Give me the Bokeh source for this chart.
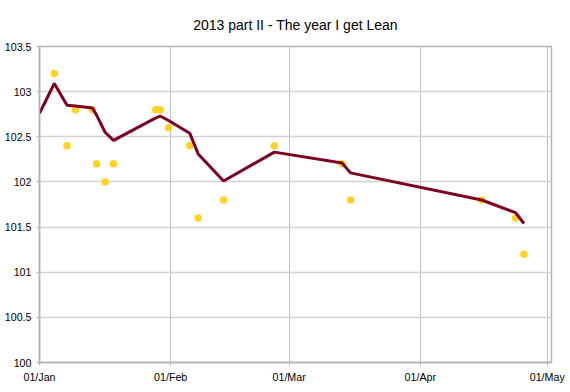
import pandas as pd
from bokeh.plotting import figure
from bokeh.models import Range1d, FixedTicker, DatetimeTickFormatter, NumeralTickFormatter, ColumnDataSource
from bokeh.embed import file_html
from bokeh.resources import INLINE

title_text = "2013 part II - The year I get Lean"

point_dates = ["2013-01-04 12:00", "2013-01-07 12:00", "2013-01-09 12:00", "2013-01-13 12:00",
               "2013-01-14 12:00", "2013-01-16 12:00", "2013-01-18 12:00", "2013-01-28 12:00",
               "2013-01-29 12:00", "2013-01-31 12:00", "2013-02-05 12:00", "2013-02-07 12:00",
               "2013-02-13 12:00", "2013-02-25 12:00", "2013-03-13 12:00", "2013-03-15 12:00",
               "2013-04-15 12:00", "2013-04-23 12:00", "2013-04-25 12:00"]
point_values = [103.2, 102.4, 102.8, 102.8, 102.2, 102.0, 102.2, 102.8, 102.8, 102.6,
                102.4, 101.6, 101.8, 102.4, 102.2, 101.8, 101.8, 101.6, 101.2]

trend_dates = ["2013-01-01 00:00"] + point_dates
trend_values = [102.76, 103.09, 102.85, 102.84, 102.82, 102.74, 102.55, 102.46, 102.71, 102.73,
                102.68, 102.54, 102.31, 102.01, 102.33, 102.21, 102.10, 101.80, 101.66, 101.54]

month_ticks = ["2013-01-01", "2013-02-01", "2013-03-01", "2013-04-01", "2013-05-01"]
y_ticks = [100, 100.5, 101, 101.5, 102, 102.5, 103, 103.5]

pts = ColumnDataSource(dict(x=pd.to_datetime(point_dates), y=point_values))
trend = ColumnDataSource(dict(x=pd.to_datetime(trend_dates), y=trend_values))

p = figure(width=570, height=392, output_backend="svg", toolbar_location=None,
           x_axis_type="datetime",
           x_range=Range1d(pd.Timestamp("2013-01-01"), pd.Timestamp("2013-05-02")),
           y_range=Range1d(100, 103.5),
           min_border_left=39, min_border_right=19, min_border_top=46, min_border_bottom=30)

p.title.text = title_text
p.title.align = "center"
p.title.text_font = "Liberation Sans"
p.title.text_font_size = "14px"
p.title.text_font_style = "normal"
p.title.text_color = "#000000"
p.title.standoff = 27

p.scatter("x", "y", source=pts, size=7.5, fill_color="#ffd320", line_color=None)
p.line("x", "y", source=trend, line_color="#7e0021", line_width=3)

xt = [pd.Timestamp(d).value // 10**6 for d in month_ticks]
p.xaxis.ticker = FixedTicker(ticks=xt)
fmt = "%d/%b"
p.xaxis.formatter = DatetimeTickFormatter(milliseconds=fmt, seconds=fmt, minsec=fmt, minutes=fmt,
                                          hourmin=fmt, hours=fmt, days=fmt, months=fmt, years=fmt)
p.yaxis.ticker = FixedTicker(ticks=y_ticks)
p.yaxis.formatter = NumeralTickFormatter(format="0.[0]")

for ax in (p.xaxis, p.yaxis):
    ax.axis_line_color = "#b3b3b3"
    ax.axis_line_width = 1.5
    ax.major_tick_line_color = "#b3b3b3"
    ax.major_tick_in = 0
    ax.major_tick_out = 3
    ax.minor_tick_line_color = None
    ax.major_label_text_font = "Liberation Sans"
    ax.major_label_text_font_size = "10.7px"
    ax.major_label_text_color = "#000000"
p.xaxis.major_label_standoff = 5
p.yaxis.major_label_standoff = 5

p.xgrid.grid_line_color = "#c0c0c0"
p.xgrid.grid_line_width = 1
p.ygrid.grid_line_color = "#d2d2d2"
p.ygrid.grid_line_width = 1.5

p.outline_line_color = "#b3b3b3"
p.outline_line_width = 1.5
p.background_fill_color = "white"
p.border_fill_color = "white"

open("out.html", "w").write(file_html(p, INLINE))
